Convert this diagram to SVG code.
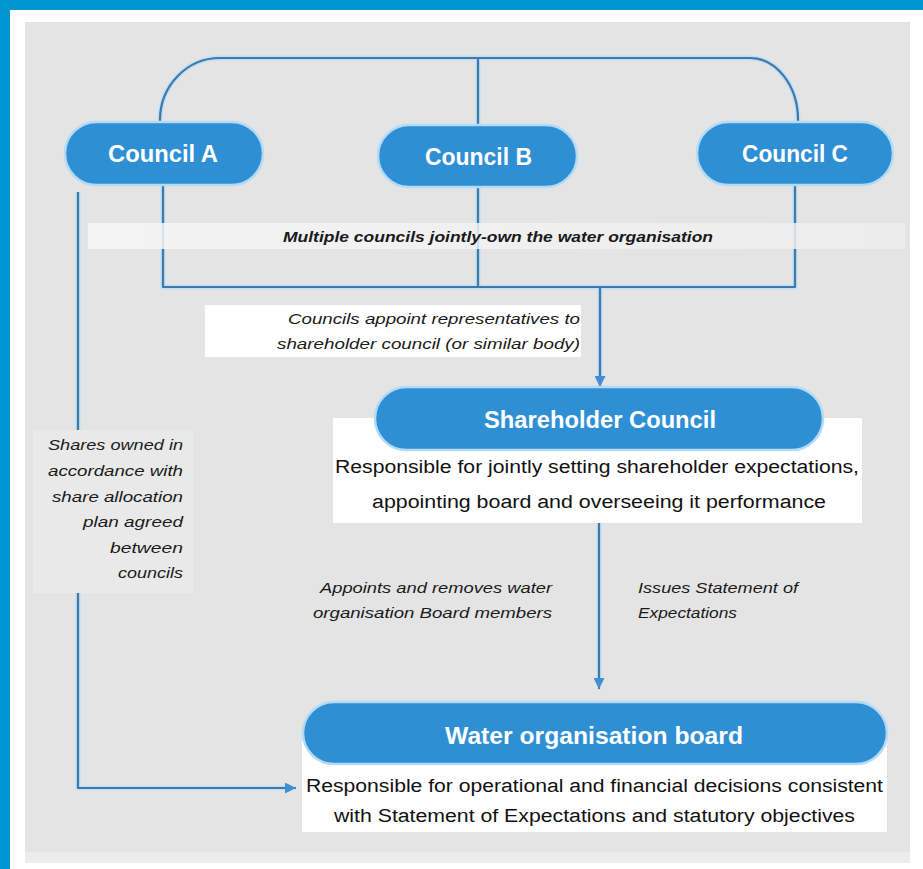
<svg xmlns="http://www.w3.org/2000/svg" width="923" height="869" viewBox="0 0 923 869">
<style>
.pill{fill:#2e8fd5;stroke:#b3dbf5;stroke-width:2.5}
.title{font-family:"Liberation Sans",Arial,sans-serif;font-weight:bold;font-size:23px;fill:#ffffff}
.desc{font-family:"Liberation Sans",Arial,sans-serif;font-size:18px;fill:#111111}
.lbl{font-family:"Liberation Sans",Arial,sans-serif;font-style:italic;font-size:15px;fill:#1a1a1a}
.lblb{font-family:"Liberation Sans",Arial,sans-serif;font-style:italic;font-weight:bold;font-size:14px;fill:#1a1a1a}
.glow{fill:none;stroke:#bde0f6;stroke-width:5;stroke-linejoin:round}
.line{fill:none;stroke:#4277a8;stroke-width:2.2;stroke-linejoin:round}
.box{fill:#ffffff}
</style>
<defs>
<marker id="arr" viewBox="0 0 10 10" refX="10" refY="5" markerWidth="11" markerHeight="11" markerUnits="userSpaceOnUse" orient="auto">
<path d="M0,0 L10,5 L0,10 z" fill="#3f8fd2"/>
</marker>
<linearGradient id="band" x1="0" y1="0" x2="1" y2="0">
<stop offset="0" stop-color="#f6f6f6"/>
<stop offset="1" stop-color="#eeeeee"/>
</linearGradient>
</defs>
<rect x="0" y="0" width="923" height="869" fill="#ffffff"/>
<rect x="0" y="0" width="923" height="10" fill="#0094d3"/>
<rect x="0" y="0" width="10" height="869" fill="#0094d3"/>
<rect x="25" y="22" width="885" height="830" fill="#e4e4e4"/>
<rect x="25" y="852" width="885" height="11" fill="#ececec"/>

<g id="connectors">
<path class="glow" d="M160,122 L160,120 A60,62 0 0 1 220,58 L750,58 A48,62 0 0 1 798,120 L798,122"/>
<path class="glow" d="M478,58 L478,125 M478,187 L478,287 M163,185 L163,287 L795,287 L795,185 M600,287 L600,378 M599,523 L599,680 M78,192 L78,433 M78,587 L78,788 L287,788"/>
<path class="line" d="M160,122 L160,120 A60,62 0 0 1 220,58 L750,58 A48,62 0 0 1 798,120 L798,122"/>
<path class="line" d="M478,58 L478,125"/>
<path class="line" d="M478,187 L478,287"/>
<path class="line" d="M163,185 L163,287 L795,287 L795,185"/>
<path class="line" d="M600,287 L600,387" marker-end="url(#arr)"/>
<path class="line" d="M599,523 L599,689" marker-end="url(#arr)"/>
<path class="line" d="M78,192 L78,433"/>
<path class="line" d="M78,587 L78,788 L296,788" marker-end="url(#arr)"/>
</g>

<g id="label-joint">
<rect x="88" y="223" width="817" height="26" fill="url(#band)" opacity="0.85"/>
<text class="lblb" x="283" y="242" textLength="430" lengthAdjust="spacingAndGlyphs">Multiple councils jointly-own the water organisation</text>
</g>

<g id="council-a">
<rect class="pill" x="65" y="122" width="198" height="63" rx="31.5"/>
<text class="title" x="108" y="162" textLength="110" lengthAdjust="spacingAndGlyphs">Council A</text>
</g>
<g id="council-b">
<rect class="pill" x="378" y="125" width="199" height="62" rx="31"/>
<text class="title" x="425" y="165" textLength="107" lengthAdjust="spacingAndGlyphs">Council B</text>
</g>
<g id="council-c">
<rect class="pill" x="697" y="122" width="196" height="63" rx="31.5"/>
<text class="title" x="742" y="162" textLength="106" lengthAdjust="spacingAndGlyphs">Council C</text>
</g>

<g id="label-appoint-reps">
<rect class="box" x="205" y="305" width="376" height="52"/>
<text class="lbl" x="288" y="324" textLength="292" lengthAdjust="spacingAndGlyphs">Councils appoint representatives to</text>
<text class="lbl" x="277" y="349" textLength="303" lengthAdjust="spacingAndGlyphs">shareholder council (or similar body)</text>
</g>

<g id="label-shares">
<rect x="33" y="430" width="160" height="163" fill="#e9e9e9"/>
<text class="lbl" x="48" y="450" textLength="135" lengthAdjust="spacingAndGlyphs">Shares owned in</text>
<text class="lbl" x="48" y="476" textLength="135" lengthAdjust="spacingAndGlyphs">accordance with</text>
<text class="lbl" x="52" y="502" textLength="131" lengthAdjust="spacingAndGlyphs">share allocation</text>
<text class="lbl" x="83" y="527" textLength="100" lengthAdjust="spacingAndGlyphs">plan agreed</text>
<text class="lbl" x="110" y="553" textLength="73" lengthAdjust="spacingAndGlyphs">between</text>
<text class="lbl" x="118" y="578" textLength="65" lengthAdjust="spacingAndGlyphs">councils</text>
</g>

<g id="shareholder-council">
<rect class="box" x="333" y="418" width="529" height="105"/>
<rect class="pill" x="375" y="387" width="448" height="63" rx="31.5"/>
<text class="title" x="484" y="428" textLength="232" lengthAdjust="spacingAndGlyphs">Shareholder Council</text>
<text class="desc" x="335" y="473" textLength="524" lengthAdjust="spacingAndGlyphs">Responsible for jointly setting shareholder expectations,</text>
<text class="desc" x="372" y="508" textLength="454" lengthAdjust="spacingAndGlyphs">appointing board and overseeing it performance</text>
</g>

<g id="label-appoints-board">
<text class="lbl" x="320" y="593" textLength="232" lengthAdjust="spacingAndGlyphs">Appoints and removes water</text>
<text class="lbl" x="313" y="618" textLength="239" lengthAdjust="spacingAndGlyphs">organisation Board members</text>
</g>
<g id="label-issues">
<text class="lbl" x="638" y="593" textLength="160" lengthAdjust="spacingAndGlyphs">Issues Statement of</text>
<text class="lbl" x="638" y="618" textLength="99" lengthAdjust="spacingAndGlyphs">Expectations</text>
</g>

<g id="water-board">
<rect class="box" x="302" y="740" width="585" height="92"/>
<rect class="pill" x="303" y="702" width="584" height="62" rx="31"/>
<text class="title" x="445" y="744" textLength="298" lengthAdjust="spacingAndGlyphs">Water organisation board</text>
<text class="desc" x="306" y="792" textLength="577" lengthAdjust="spacingAndGlyphs">Responsible for operational and financial decisions consistent</text>
<text class="desc" x="334" y="822" textLength="521" lengthAdjust="spacingAndGlyphs">with Statement of Expectations and statutory objectives</text>
</g>
</svg>
